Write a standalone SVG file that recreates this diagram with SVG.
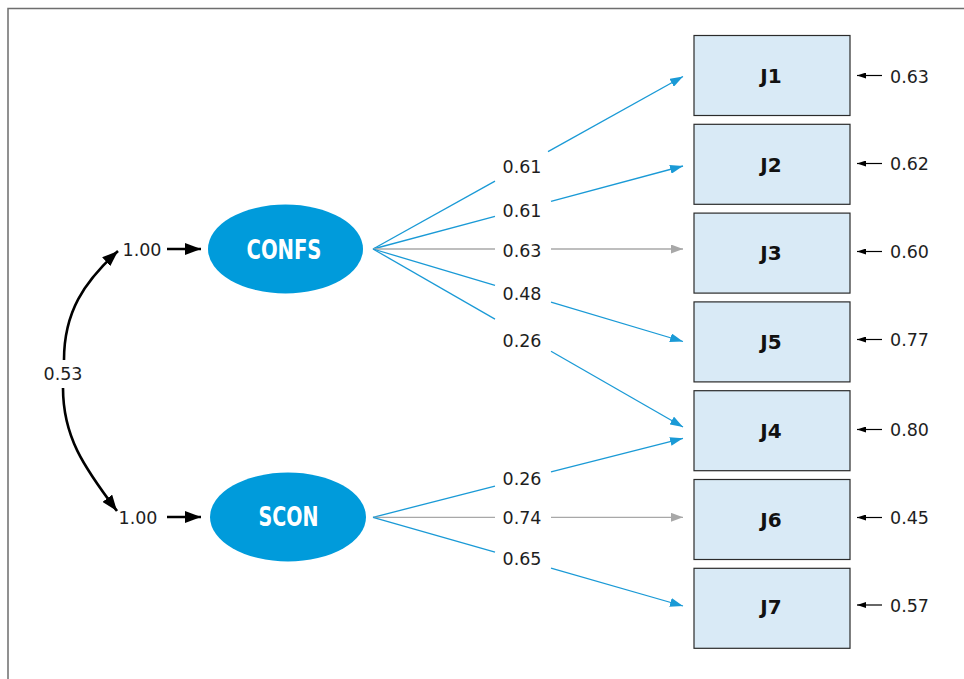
<svg xmlns="http://www.w3.org/2000/svg" width="964" height="679" viewBox="0 0 964 679">
<style>
.frame{stroke:#6e6e6e;stroke-width:1.5;fill:none}
.box{fill:#d9eaf6;stroke:#2b2b2b;stroke-width:1.2}
.lat{fill:#009bdb}
.latlbl{font-family:"DejaVu Sans Condensed","DejaVu Sans",sans-serif;font-weight:bold;font-size:26px;fill:#ffffff;text-anchor:middle}
.boxlbl{font-family:"DejaVu Sans",sans-serif;font-weight:bold;font-size:20px;fill:#111;text-anchor:middle}
.num{font-family:"DejaVu Sans",sans-serif;font-size:17.5px;fill:#1e1e1e;text-anchor:middle}
.err{font-family:"DejaVu Sans",sans-serif;font-size:17.5px;fill:#1e1e1e;text-anchor:start}
.blue{stroke:#1a9ad6;stroke-width:1.3;fill:none}
.gray{stroke:#a8a8a8;stroke-width:1.3;fill:none}
.blk{stroke:#000;stroke-width:2.6;fill:none}
.thin{stroke:#000;stroke-width:1.2;fill:none}
</style>
<defs>
<marker id="hb" markerUnits="userSpaceOnUse" markerWidth="13" markerHeight="9" refX="13" refY="4.5" orient="auto"><path d="M0,0 L13,4.5 L0,9 z" fill="#1a9ad6"/></marker>
<marker id="hg" markerUnits="userSpaceOnUse" markerWidth="12" markerHeight="9" refX="12" refY="4.5" orient="auto"><path d="M0,0 L12,4.5 L0,9 z" fill="#a8a8a8"/></marker>
<marker id="hk" markerUnits="userSpaceOnUse" markerWidth="16" markerHeight="12" refX="16" refY="6" orient="auto"><path d="M0,0 L16,6 L0,12 z" fill="#000"/></marker>
<marker id="hs" markerUnits="userSpaceOnUse" markerWidth="9" markerHeight="6" refX="9" refY="3" orient="auto"><path d="M0,0 L9,3 L0,6 z" fill="#000"/></marker>
</defs>

<path class="frame" d="M8,679 L8,8.5 L964,8.5"/>

<g id="connectors">
  <path class="blk" d="M64,360 C64,312 84,282 118,251" marker-end="url(#hk)"/>
  <path class="blk" d="M63,388 C63,436 83,466 117,511" marker-end="url(#hk)"/>
  <line class="blk" x1="167" y1="249" x2="201" y2="249" marker-end="url(#hk)"/>
  <line class="blk" x1="167" y1="517" x2="201" y2="517" marker-end="url(#hk)"/>
  <line class="blue" x1="373" y1="249" x2="495" y2="181.1"/>
  <line class="blue" x1="548" y1="151.6" x2="683" y2="76.5" marker-end="url(#hb)"/>
  <line class="blue" x1="373" y1="249" x2="495" y2="216.3"/>
  <line class="blue" x1="551" y1="201.3" x2="683" y2="166" marker-end="url(#hb)"/>
  <line class="gray" x1="373" y1="249" x2="495" y2="249"/>
  <line class="gray" x1="551" y1="249" x2="683" y2="249" marker-end="url(#hg)"/>
  <line class="blue" x1="373" y1="249" x2="495" y2="285.4"/>
  <line class="blue" x1="551" y1="302.1" x2="683" y2="341.5" marker-end="url(#hb)"/>
  <line class="blue" x1="373" y1="249" x2="495" y2="319.1"/>
  <line class="blue" x1="551" y1="351.2" x2="683" y2="427" marker-end="url(#hb)"/>
  <line class="blue" x1="373" y1="517.3" x2="495" y2="486.2"/>
  <line class="blue" x1="551" y1="471.9" x2="683" y2="438.3" marker-end="url(#hb)"/>
  <line class="gray" x1="373" y1="517.3" x2="495" y2="517.3"/>
  <line class="gray" x1="551" y1="517.3" x2="683" y2="517.3" marker-end="url(#hg)"/>
  <line class="blue" x1="373" y1="517.3" x2="495" y2="552.2"/>
  <line class="blue" x1="551" y1="568.2" x2="683" y2="606" marker-end="url(#hb)"/>
  <line class="thin" x1="882" y1="75.5" x2="857" y2="75.5" marker-end="url(#hs)"/>
  <line class="thin" x1="882" y1="163.5" x2="857" y2="163.5" marker-end="url(#hs)"/>
  <line class="thin" x1="882" y1="251.5" x2="857" y2="251.5" marker-end="url(#hs)"/>
  <line class="thin" x1="882" y1="339.5" x2="857" y2="339.5" marker-end="url(#hs)"/>
  <line class="thin" x1="882" y1="429.5" x2="857" y2="429.5" marker-end="url(#hs)"/>
  <line class="thin" x1="882" y1="517.5" x2="857" y2="517.5" marker-end="url(#hs)"/>
  <line class="thin" x1="882" y1="605" x2="857" y2="605" marker-end="url(#hs)"/>
  <text class="num" x="63" y="380">0.53</text>
  <text class="num" x="142" y="255.5">1.00</text>
  <text class="num" x="138" y="524">1.00</text>
  <text class="num" x="522" y="172.5">0.61</text>
  <text class="num" x="522" y="216.5">0.61</text>
  <text class="num" x="522" y="256.5">0.63</text>
  <text class="num" x="522" y="300">0.48</text>
  <text class="num" x="522" y="346.5">0.26</text>
  <text class="num" x="522" y="484.5">0.26</text>
  <text class="num" x="522" y="523.5">0.74</text>
  <text class="num" x="522" y="564.5">0.65</text>
  <text class="err" x="890" y="82.5">0.63</text>
  <text class="err" x="890" y="170">0.62</text>
  <text class="err" x="890" y="258">0.60</text>
  <text class="err" x="890" y="346">0.77</text>
  <text class="err" x="890" y="436">0.80</text>
  <text class="err" x="890" y="524">0.45</text>
  <text class="err" x="890" y="611.5">0.57</text>
</g>

<g id="CONFS">
  <ellipse class="lat" cx="285.5" cy="249" rx="77.5" ry="44.5"/>
  <text class="latlbl" x="284" y="259" textLength="75" lengthAdjust="spacingAndGlyphs">CONFS</text>
</g>
<g id="SCON">
  <ellipse class="lat" cx="288" cy="517" rx="78" ry="44.5"/>
  <text class="latlbl" x="288.5" y="526" textLength="60" lengthAdjust="spacingAndGlyphs">SCON</text>
</g>

<g id="J1"><rect class="box" x="694" y="35.5" width="156" height="80"/><text class="boxlbl" x="771" y="83.3">J1</text></g>
<g id="J2"><rect class="box" x="694" y="124.3" width="156" height="80"/><text class="boxlbl" x="771" y="171.5">J2</text></g>
<g id="J3"><rect class="box" x="694" y="213.1" width="156" height="80"/><text class="boxlbl" x="771" y="260">J3</text></g>
<g id="J5"><rect class="box" x="694" y="301.9" width="156" height="80"/><text class="boxlbl" x="771" y="349">J5</text></g>
<g id="J4"><rect class="box" x="694" y="390.7" width="156" height="80"/><text class="boxlbl" x="771" y="438">J4</text></g>
<g id="J6"><rect class="box" x="694" y="479.5" width="156" height="80"/><text class="boxlbl" x="771" y="526.5">J6</text></g>
<g id="J7"><rect class="box" x="694" y="568.3" width="156" height="80"/><text class="boxlbl" x="771" y="614">J7</text></g>
</svg>
